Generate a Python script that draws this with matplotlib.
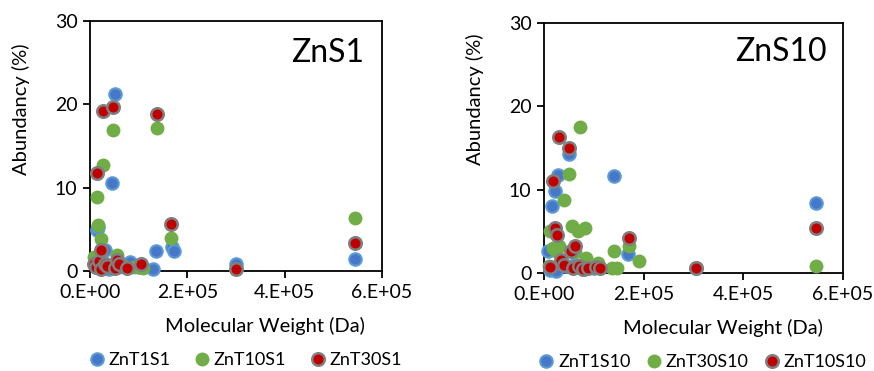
import matplotlib
matplotlib.use("Agg")
import matplotlib.pyplot as plt
from matplotlib.lines import Line2D

plt.rcParams['font.family'] = ['Lato', 'DejaVu Sans']

# ---------------- Data: ZnS1 panel ----------------
s1_names = ["ZnT1S1", "ZnT10S1", "ZnT30S1"]
s1_blue_x = [10e3, 15e3, 17e3, 22e3, 25e3, 31e3, 40e3, 46e3, 51e3, 58e3, 65e3, 78e3, 82e3, 100e3, 130e3, 136e3, 168e3, 173e3, 301e3, 545e3]
s1_blue_y = [0.8, 4.9, 5.3, 1.5, 0.6, 2.5, 0.3, 10.6, 21.2, 0.5, 0.8, 0.9, 1.1, 0.5, 0.3, 2.4, 2.9, 2.4, 0.9, 1.4]
s1_green_x = [8e3, 10e3, 15e3, 17e3, 22e3, 23e3, 26e3, 30e3, 40e3, 48e3, 55e3, 57e3, 70e3, 90e3, 109e3, 137e3, 166e3, 545e3]
s1_green_y = [1.7, 1.0, 8.9, 5.5, 0.6, 3.8, 12.7, 0.9, 0.5, 16.9, 1.9, 0.9, 0.6, 0.5, 0.4, 17.1, 4.0, 6.4]
s1_red_x = [8e3, 12e3, 15e3, 18e3, 22e3, 23e3, 27e3, 30e3, 35e3, 47e3, 51e3, 55e3, 60e3, 77e3, 105e3, 137e3, 166e3, 301e3, 544e3]
s1_red_y = [0.8, 0.5, 11.8, 1.2, 0.3, 2.5, 19.2, 0.9, 0.6, 19.7, 0.4, 1.3, 0.8, 0.4, 0.9, 18.9, 5.7, 0.3, 3.4]

# ---------------- Data: ZnS10 panel ----------------
s10_names = ["ZnT1S10", "ZnT30S10", "ZnT10S10"]
s10_blue_x = [9e3, 12e3, 17e3, 22e3, 25e3, 29e3, 35e3, 45e3, 50e3, 60e3, 80e3, 100e3, 140e3, 169e3, 306e3, 545e3]
s10_blue_y = [2.6, 0.4, 8.0, 9.8, 0.3, 11.8, 1.2, 0.8, 14.3, 1.0, 0.5, 0.6, 11.7, 2.3, 0.6, 8.4]
s10_green_x = [10e3, 13e3, 19e3, 25e3, 30e3, 41e3, 50e3, 56e3, 62e3, 69e3, 72e3, 82e3, 84e3, 100e3, 109e3, 136e3, 140e3, 146e3, 171e3, 191e3, 545e3]
s10_green_y = [0.8, 5.0, 3.0, 2.6, 3.3, 8.8, 11.9, 5.6, 2.5, 5.0, 17.5, 5.4, 1.8, 1.0, 1.2, 0.6, 2.7, 0.6, 3.2, 1.4, 0.8]
s10_red_x = [13e3, 19e3, 22e3, 27e3, 30e3, 35e3, 40e3, 50e3, 54e3, 58e3, 62e3, 70e3, 78e3, 89e3, 104e3, 112e3, 171e3, 306e3, 545e3]
s10_red_y = [0.7, 11.0, 5.4, 4.6, 16.3, 1.6, 1.0, 15.0, 2.6, 0.6, 3.2, 0.8, 0.5, 0.6, 0.7, 0.6, 4.2, 0.6, 5.4]

xticks = [0, 2e5, 4e5, 6e5]
xticklabels = ["0.E+00", "2.E+05", "4.E+05", "6.E+05"]
yticks = [0, 10, 20, 30]

BLUE = dict(mfc="#4677C8", mec="#5B9BD5", mew=1.5)
GREEN = dict(mfc="#70AD47", mec="#70AD47", mew=1.0)
RED = dict(mfc="#C00000", mec="#7F7F7F", mew=1.8)
MS = 9

W, H = 874, 371
fig = plt.figure(figsize=(W / 100, H / 100), dpi=100)

def px_axes(l, t, r, b):
    return fig.add_axes([l / W, 1 - b / H, (r - l) / W, (b - t) / H])

def draw(ax, series, title, title_xy, xlab, ylab):
    for (x, y, style) in series:
        ax.plot(x, y, 'o', ms=MS, ls='none', clip_on=False, zorder=3, **style)
    ax.set_xlim(0, 6e5)
    ax.set_ylim(0, 30)
    ax.set_xticks(xticks)
    ax.set_xticklabels(xticklabels)
    ax.set_yticks(yticks)
    ax.tick_params(direction='out', length=5, width=1.3, labelsize=14, pad=4)
    for sp in ax.spines.values():
        sp.set_linewidth(1.3)
    ax.set_xlabel("Molecular Weight (Da)", fontsize=14.5)
    ax.set_ylabel("Abundancy (%)", fontsize=14.5)
    ax.xaxis.set_label_coords(*xlab)
    ax.yaxis.set_label_coords(*ylab)
    ax.text(title_xy[0], title_xy[1], title, transform=ax.transAxes,
            ha='right', va='center', fontsize=23)

ax1 = px_axes(90, 21, 382, 271)
draw(ax1, [(s1_blue_x, s1_blue_y, BLUE), (s1_green_x, s1_green_y, GREEN), (s1_red_x, s1_red_y, RED)],
     "ZnS1", (0.94, 0.87), (0.60, -0.185), (-0.205, 0.648))

ax2 = px_axes(544, 23, 843, 273)
draw(ax2, [(s10_blue_x, s10_blue_y, BLUE), (s10_green_x, s10_green_y, GREEN), (s10_red_x, s10_red_y, RED)],
     "ZnS10", (0.946, 0.885), (0.60, -0.185), (-0.20, 0.696))

def legend(ax, names, anchor, colsp):
    handles = [Line2D([], [], marker='o', ls='none', ms=MS, **st) for st in (BLUE, GREEN, RED)]
    ax.legend(handles, names, loc='center', bbox_to_anchor=anchor, bbox_transform=fig.transFigure,
              ncol=3, frameon=False, fontsize=13, handletextpad=0.15, columnspacing=colsp,
              handlelength=1.0, borderpad=0)

legend(ax1, s1_names, (245 / W, 1 - 360 / H), 1.25)
legend(ax2, s10_names, (702 / W, 1 - 362 / H), 0.8)

fig.savefig("out.png", dpi=100)
